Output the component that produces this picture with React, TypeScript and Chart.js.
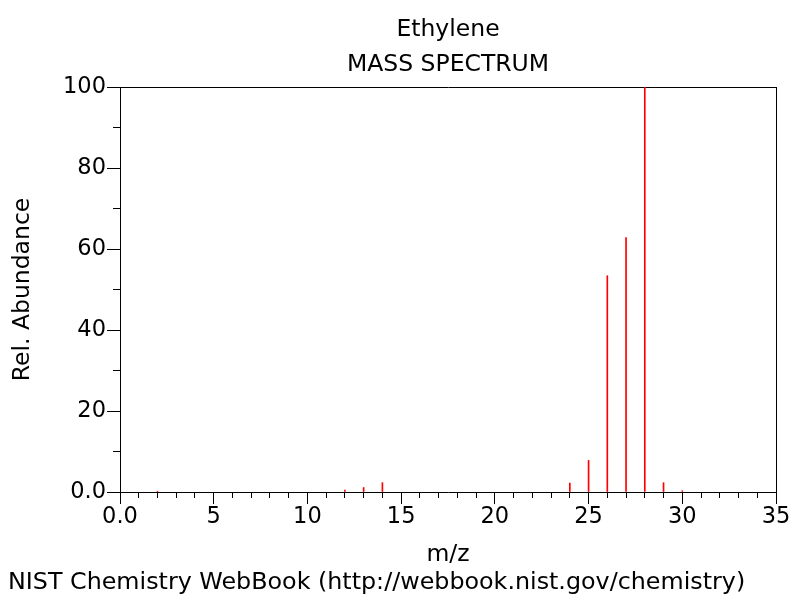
import React, { useEffect, useRef } from "react";
import { Chart, registerables } from "chart.js";

Chart.register(...registerables);

const mz = [2, 12, 13, 14, 24, 25, 26, 27, 28, 29, 30];
const abundance = [0.2, 0.5, 1.1, 2.3, 2.2, 7.8, 53.4, 62.8, 100, 2.3, 0.3];
const titleLines = ["Ethylene", "MASS SPECTRUM"];
const xAxisTitle = "m/z";
const yAxisTitle = "Rel. Abundance";
const footerText = "NIST Chemistry WebBook (http://webbook.nist.gov/chemistry)";
const xRange = [0, 35];
const yRange = [0, 100];
const xMajorStep = 5;
const xMinorStep = 1;
const yMajorStep = 20;
const yMinorStep = 10;

const FONT = "'DejaVu Sans', sans-serif";
const TXT = 23.5;
const FOOT = 23.8;
const TICK = 22.5;
const fmt = (v: number) => (v === 0 ? "0.0" : String(v));

export default function App() {
  const ref = useRef<HTMLCanvasElement | null>(null);

  useEffect(() => {
    document.body.style.margin = "0";
    const canvas = ref.current;
    if (!canvas) return;
    Chart.defaults.font.family = FONT;
    Chart.defaults.color = "#000";

    const chart = new Chart(canvas, {
      type: "bar",
      data: {
        datasets: [
          {
            data: mz.map((m, i) => ({ x: m, y: abundance[i] })),
            backgroundColor: "#ff0000",
            borderWidth: 0,
            barThickness: 1,
            xAxisID: "x",
            yAxisID: "y",
          },
        ],
      },
      options: {
        animation: false,
        responsive: false,
        maintainAspectRatio: false,
        layout: { padding: { left: 8, right: 24, top: 0, bottom: 0 } },
        plugins: {
          legend: { display: false },
          tooltip: { enabled: false },
          title: { display: false },
          subtitle: {
            display: true,
            text: footerText,
            position: "bottom",
            align: "start",
            color: "#000",
            font: { size: FOOT, family: FONT, weight: "normal", lineHeight: 28.2 / FOOT },
            padding: { top: 0, bottom: 3 },
          },
        },
        scales: {
          x: {
            type: "linear",
            position: "bottom",
            weight: 1,
            min: xRange[0],
            max: xRange[1],
            offset: false,
            grid: {
              display: true,
              drawOnChartArea: false,
              offset: false,
              tickLength: 12,
              color: "#000",
              tickColor: "#000",
            },
            border: { display: true, color: "#000", width: 1 },
            ticks: {
              stepSize: xMajorStep,
              autoSkip: false,
              maxRotation: 0,
              padding: 0,
              color: "#000",
              font: { size: TICK, family: FONT },
              callback: (v: any) => fmt(Number(v)),
            },
            title: {
              display: true,
              text: xAxisTitle,
              color: "#000",
              font: { size: TXT, family: FONT, lineHeight: 1.2 },
              padding: { top: 0, bottom: 0 },
            },
            afterFit: (s: any) => {
              s.height = 76.8;
            },
          },
          xMinor: {
            type: "linear",
            position: "bottom",
            weight: -1,
            min: xRange[0],
            max: xRange[1],
            offset: false,
            grid: {
              display: true,
              drawOnChartArea: false,
              offset: false,
              tickLength: 6,
              color: "#000",
              tickColor: "#000",
            },
            border: { display: false },
            ticks: { stepSize: xMinorStep, display: false, autoSkip: false },
            afterFit: (s: any) => {
              s.height = 0;
            },
          },
          xTop: {
            type: "linear",
            position: "top",
            min: xRange[0],
            max: xRange[1],
            offset: false,
            grid: { display: false },
            border: { display: true, color: "#000", width: 1 },
            ticks: { display: false },
            title: {
              display: true,
              text: titleLines,
              color: "#000",
              font: { size: TXT, family: FONT, lineHeight: 35 / TXT },
              padding: { top: 12.5, bottom: 0 },
            },
            afterFit: (s: any) => {
              s.height = 87;
            },
          },
          y: {
            type: "linear",
            position: "left",
            weight: 1,
            min: yRange[0],
            max: yRange[1],
            grid: {
              display: true,
              drawOnChartArea: false,
              tickLength: 13,
              color: "#000",
              tickColor: "#000",
            },
            border: { display: true, color: "#000", width: 1 },
            ticks: {
              stepSize: yMajorStep,
              autoSkip: false,
              padding: 1,
              color: "#000",
              font: { size: TICK, family: FONT },
              callback: (v: any) => fmt(Number(v)),
            },
            title: {
              display: true,
              text: yAxisTitle,
              color: "#000",
              font: { size: TXT, family: FONT, lineHeight: 1.2 },
              padding: { top: 1, bottom: 0 },
            },
            afterFit: (s: any) => {
              s.width = 112;
            },
          },
          yMinor: {
            type: "linear",
            position: "left",
            weight: -1,
            min: yRange[0],
            max: yRange[1],
            grid: {
              display: true,
              drawOnChartArea: false,
              tickLength: 7,
              color: "#000",
              tickColor: "#000",
            },
            border: { display: false },
            ticks: { stepSize: yMinorStep, display: false, autoSkip: false },
            afterFit: (s: any) => {
              s.width = 0;
            },
          },
          yRight: {
            type: "linear",
            position: "right",
            min: yRange[0],
            max: yRange[1],
            grid: { display: false },
            border: { display: true, color: "#000", width: 1 },
            ticks: { display: false },
            afterFit: (s: any) => {
              s.width = 0;
            },
          },
        },
      } as any,
    });
    return () => chart.destroy();
  }, []);

  return (
    <div style={{ width: 800, height: 600, background: "#fff" }}>
      <canvas ref={ref} width={800} height={600} style={{ display: "block" }} />
    </div>
  );
}
